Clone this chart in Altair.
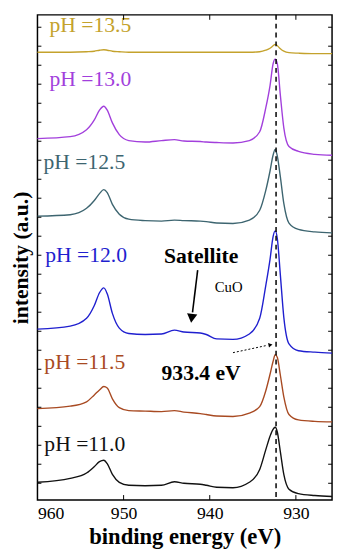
import altair as alt
import pandas as pd

# ---- data ----
energy = [960, 956.2, 954.3, 953.4, 952.8, 952.3, 951.9, 951.3, 950.5, 949.4, 947.5,
          945.6, 944.1, 943.0, 941.1, 940.4, 939.2, 937.3, 935.4, 934.2, 933.5, 933.0,
          932.65, 932.4, 932.15, 931.8, 931.4, 930.8, 929.7, 927.8, 925.8]

series_names = ["pH =13.5", "pH =13.0", "pH =12.5", "pH =12.0", "pH =11.5", "pH =11.0"]
series_colors = ["#c4a22c", "#a23fdc", "#3d6570", "#1f1fcf", "#a84a22", "#111111"]

ph135 = [457, 457, 457.5, 458, 459, 459.5, 459, 458, 457.5, 457, 457, 457, 457, 457, 457, 457,
         457, 457, 457, 457.5, 459, 461, 463.5, 465, 463.5, 460.5, 458, 456.5, 456, 455.5, 455.5]
ph130 = [369, 371, 378, 388, 398, 402, 398, 385, 373, 367, 365.5, 367, 368, 366.5, 366, 365.5,
         365, 364.5, 367, 376, 400, 423, 445, 450, 445, 413, 380, 361, 356, 353, 352]
ph125 = [290, 291.5, 298, 306, 313, 317, 314, 302, 292, 287, 285.5, 285, 286, 285.5, 285, 284.5,
         283, 282.5, 286, 296, 316, 336, 352, 358, 351, 330, 303, 283, 276.5, 274, 273]
ph120 = [175, 178, 186, 199, 212, 217, 211, 191, 176, 170.5, 169.5, 170, 174, 172, 171, 169.5,
         165, 164.5, 170, 186, 219, 246, 269, 275, 267, 230, 187, 160, 153, 151.5, 150.5]
ph115 = [94, 96.5, 101, 108, 113, 116.5, 115, 104, 95, 92, 91.5, 91, 92, 90.5, 89, 88,
         86.5, 86, 89.5, 96, 112, 129, 142, 149, 146, 128, 106, 88, 82.5, 81, 80.5]
ph110 = [19, 23, 28.5, 35, 40, 41.5, 38, 27, 19, 16, 15.5, 16, 19.5, 18, 17, 16,
         14, 13.5, 19, 32, 52, 66, 73, 75, 70, 50, 27, 12, 7.5, 5.5, 4.5]
all_series = [ph135, ph130, ph125, ph120, ph115, ph110]

label_E = [958.6, 958.6, 959.3, 959.1, 959.2, 959.2]
label_I = [485, 430, 345, 250, 141, 58]

x_tick_values = [960, 950, 940, 930]
x_minor_ticks = [950, 940, 930]
y_ticks = [18, 37.4, 56.7, 76, 95.4, 114.8, 134.1, 153.5, 172.8, 192.2, 211.5, 230.9, 250.2,
           269.6, 288.9, 308.3, 327.6, 347, 366.3, 385.7, 405, 424.4, 443.7, 463.1, 482.4]

peak_line_E = [932.3]

annot_text = ["Satellite", "933.4 eV"]
annot_E = [941.0, 941.0]
annot_I = [249, 130]
cuo_text = ["CuO"]
cuo_E = [937.8]
cuo_I = [218]

arrow1_E = [941.4, 942.0]
arrow1_I = [235, 192]
arrow1_head = (942.1, 186)
arrow2_E = [937.3, 933.3]
arrow2_I = [151, 158.5]
arrow2_head = (932.95, 159)

# ---- build tables ----
rows = []
for name, vals in zip(series_names, all_series):
    for e, v in zip(energy, vals):
        rows.append({"E": e, "I": v, "series": name})
spec = pd.DataFrame(rows)

labels = pd.DataFrame({"E": label_E, "I": label_I, "series": series_names})

W, H = 300, 494
FONT = "Liberation Serif"

xscale = alt.Scale(domain=[960, 925.8], nice=False, zero=False)
yscale = alt.Scale(domain=[1, 495], nice=False, zero=False)
cscale = alt.Scale(domain=series_names, range=series_colors)

xaxis = alt.Axis(values=x_tick_values, format="d", ticks=False, domain=False, grid=False,
                 labelFont=FONT, labelFontSize=18, labelColor="black", labelPadding=5,
                 title="binding energy (eV)", titleFont=FONT, titleFontSize=23,
                 titleFontWeight="bold", titleColor="black", titlePadding=3)
yaxis = alt.Axis(labels=False, ticks=False, domain=False, grid=False, minExtent=0,
                 title="intensity (a.u.)", titleFont=FONT, titleFontSize=22,
                 titleFontWeight="bold", titleColor="black", titlePadding=5)

xa = alt.X("E:Q", scale=xscale, axis=xaxis)
ya = alt.Y("I:Q", scale=yscale, axis=yaxis)

lines = alt.Chart(spec).mark_line(strokeWidth=1.4, interpolate="monotone").encode(
    x=xa, y=ya,
    color=alt.Color("series:N", scale=cscale, legend=None),
    detail="series:N",
)

label_marks = alt.Chart(labels).mark_text(align="left", baseline="middle", font=FONT, fontSize=22).encode(
    x=xa, y=ya, text="series:N",
    color=alt.Color("series:N", scale=cscale, legend=None),
)

dash = alt.Chart(pd.DataFrame({"E": peak_line_E})).mark_rule(
    color="black", strokeDash=[5, 4], strokeWidth=1.5).encode(x=xa)

bold_txt = alt.Chart(pd.DataFrame({"E": annot_E, "I": annot_I, "t": annot_text})).mark_text(
    font=FONT, fontSize=22, fontWeight="bold", color="black", align="center", baseline="middle"
).encode(x=xa, y=ya, text="t:N")

cuo = alt.Chart(pd.DataFrame({"E": cuo_E, "I": cuo_I, "t": cuo_text})).mark_text(
    font=FONT, fontSize=15, color="black", align="center", baseline="middle"
).encode(x=xa, y=ya, text="t:N")

arr1 = alt.Chart(pd.DataFrame({"E": arrow1_E, "I": arrow1_I})).mark_line(
    color="black", strokeWidth=1.6).encode(x=xa, y=ya)
head1 = alt.Chart(pd.DataFrame({"E": [arrow1_head[0]], "I": [arrow1_head[1]]})).mark_point(
    shape="triangle-down", filled=True, size=110, angle=7, color="black", opacity=1).encode(x=xa, y=ya)

arr2 = alt.Chart(pd.DataFrame({"E": arrow2_E, "I": arrow2_I})).mark_line(
    color="black", strokeWidth=1, strokeDash=[2, 2]).encode(x=xa, y=ya)
head2 = alt.Chart(pd.DataFrame({"E": [arrow2_head[0]], "I": [arrow2_head[1]]})).mark_point(
    shape="triangle-right", filled=True, size=22, angle=348, color="black", opacity=1).encode(x=xa, y=ya)

xt = pd.DataFrame({"E": x_minor_ticks})
top_ticks = alt.Chart(xt).mark_rule(color="black", strokeWidth=1).encode(
    x=xa, y=alt.value(0), y2=alt.value(5))
bot_ticks = alt.Chart(xt).mark_rule(color="black", strokeWidth=1).encode(
    x=xa, y=alt.value(H), y2=alt.value(H - 5))
yt = pd.DataFrame({"I": y_ticks})
left_ticks = alt.Chart(yt).mark_rule(color="black", strokeWidth=1).encode(
    y=ya, x=alt.value(0), x2=alt.value(4))
right_ticks = alt.Chart(yt).mark_rule(color="black", strokeWidth=1).encode(
    y=ya, x=alt.value(W), x2=alt.value(W - 4))

chart = alt.layer(
    lines, dash, label_marks, bold_txt, cuo, arr1, head1, arr2, head2,
    top_ticks, bot_ticks, left_ticks, right_ticks,
).properties(
    width=W, height=H,
    padding={"left": 2, "top": 0, "right": 0, "bottom": 0},
).configure_view(
    stroke="black", strokeWidth=1.5
)

chart.save("out.html", embed_options={"renderer": "svg", "actions": False})
